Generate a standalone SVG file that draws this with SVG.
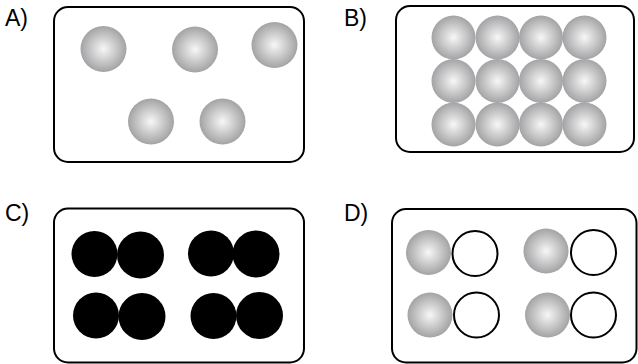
<svg xmlns="http://www.w3.org/2000/svg" width="638" height="364" viewBox="0 0 638 364">
<defs>
<radialGradient id="g" cx="0.5" cy="0.5" r="0.5">
<stop offset="0" stop-color="#f7f7f7"/>
<stop offset="1" stop-color="#a3a3a5"/>
</radialGradient>
<style>
.box{fill:#fff;stroke:#000;stroke-width:2}
.lbl{font-family:"Liberation Sans",Arial,sans-serif;font-size:23px;fill:#000}
.s{fill:url(#g)}
.k{fill:#000}
.w{fill:#fff;stroke:#000;stroke-width:2}
</style>
</defs>
<rect width="638" height="364" fill="#fff"/>
<g id="panelA">
<text class="lbl" x="5" y="26">A)</text>
<rect class="box" x="54" y="7" width="250" height="155" rx="14"/>
<circle class="s" cx="103.5" cy="49" r="23"/>
<circle class="s" cx="195" cy="49.5" r="23"/>
<circle class="s" cx="274.5" cy="45" r="23"/>
<circle class="s" cx="151" cy="121.5" r="23"/>
<circle class="s" cx="222.5" cy="121.5" r="23"/>
</g>
<g id="panelB">
<text class="lbl" x="344" y="26">B)</text>
<rect class="box" x="396" y="6" width="238" height="146" rx="14"/>
<circle class="s" cx="453.5" cy="37.5" r="22"/>
<circle class="s" cx="497.5" cy="37.5" r="22"/>
<circle class="s" cx="541" cy="37.5" r="22"/>
<circle class="s" cx="584.5" cy="37.5" r="22"/>
<circle class="s" cx="453.5" cy="81" r="22"/>
<circle class="s" cx="497.5" cy="81" r="22"/>
<circle class="s" cx="541" cy="81" r="22"/>
<circle class="s" cx="584.5" cy="81" r="22"/>
<circle class="s" cx="453.5" cy="124.5" r="22"/>
<circle class="s" cx="497.5" cy="124.5" r="22"/>
<circle class="s" cx="541" cy="124.5" r="22"/>
<circle class="s" cx="584.5" cy="124.5" r="22"/>
</g>
<g id="panelC">
<text class="lbl" x="5" y="221">C)</text>
<rect class="box" x="54" y="208.5" width="250" height="154" rx="14"/>
<circle class="k" cx="94.5" cy="254" r="23"/>
<circle class="k" cx="140.5" cy="255" r="23.5"/>
<circle class="k" cx="211" cy="253.5" r="23"/>
<circle class="k" cx="256" cy="254" r="23.5"/>
<circle class="k" cx="96" cy="315.5" r="23"/>
<circle class="k" cx="142" cy="316.5" r="23.5"/>
<circle class="k" cx="213.5" cy="316" r="23"/>
<circle class="k" cx="259.5" cy="315.5" r="23.5"/>
</g>
<g id="panelD">
<text class="lbl" x="344" y="221">D)</text>
<rect class="box" x="392" y="209" width="244.5" height="153.5" rx="14"/>
<circle class="s" cx="428.5" cy="252.5" r="22.5"/>
<circle class="w" cx="475" cy="253.5" r="22.5"/>
<circle class="s" cx="546" cy="251" r="22.5"/>
<circle class="w" cx="593.5" cy="252.5" r="22.5"/>
<circle class="s" cx="430" cy="315" r="22.5"/>
<circle class="w" cx="476.5" cy="315" r="22.5"/>
<circle class="s" cx="547.5" cy="315" r="22.5"/>
<circle class="w" cx="593.5" cy="315" r="22.5"/>
</g>
<g id="connectors"/>
</svg>
